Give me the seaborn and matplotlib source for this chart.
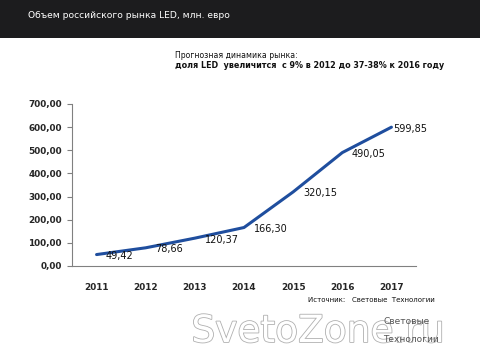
import matplotlib
matplotlib.use("Agg")
import matplotlib.pyplot as plt
import matplotlib.patheffects as pe
import seaborn as sns
import pandas as pd

years = ["2011", "2012", "2013", "2014", "2015", "2016", "2017"]
values = [49.42, 78.66, 120.37, 166.30, 320.15, 490.05, 599.85]
ytick_values = [0, 100, 200, 300, 400, 500, 600, 700]

title = "Объем российского рынка LED, млн. евро"
subtitle1 = "Прогнозная динамика рынка:"
subtitle2 = "доля LED  увеличится  с 9% в 2012 до 37-38% к 2016 году"
source = "Источник:   Световые  Технологии"

sns.set_theme(style="white")
plt.rcParams["font.family"] = ["DejaVu Sans"]

df = pd.DataFrame({"x": list(range(len(years))), "value": values})

fig = plt.figure(figsize=(4.8, 3.6), dpi=100)
fig.patch.set_facecolor("white")

# header band
fig.patches.append(plt.Rectangle((0, 1 - 38 / 360), 1, 38 / 360, transform=fig.transFigure,
                                 facecolor="#1c1c1e", edgecolor="none", zorder=0))
fig.text(28 / 480, 1 - 15 / 360, title, color="white", fontsize=6.6, va="center", ha="left")

fig.text(175 / 480, 1 - 55 / 360, subtitle1, fontsize=5.6, va="center", ha="left", color="#111111")
fig.text(175 / 480, 1 - 66 / 360, subtitle2, fontsize=5.75, fontweight="bold", va="center", ha="left", color="#111111")

ax = fig.add_axes([72 / 480, 1 - 266 / 360, 344 / 480, 162 / 360])
sns.lineplot(data=df, x="x", y="value", ax=ax, color="#1f4e9e", linewidth=2.2)

ax.set_xlim(-0.5, len(years) - 0.5)
ax.set_ylim(0, 700)
ax.set_yticks(ytick_values)
ax.set_yticklabels([f"{v:.2f}".replace(".", ",") for v in ytick_values], fontsize=6.4, fontweight="bold")
ax.set_xticks(range(len(years)))
ax.set_xticklabels(years, fontsize=6.4, fontweight="bold")
ax.set_xticks([i - 0.5 for i in range(len(years) + 1)], minor=True)
ax.tick_params(axis="x", which="major", length=0, pad=12)
ax.tick_params(axis="x", which="minor", length=4.3, width=0.8, color="#808080", direction="out")
ax.tick_params(axis="y", length=3.6, width=0.8, color="#808080", direction="out", pad=3.6, left=True)
ax.set_xlabel("")
ax.set_ylabel("")
for s in ["top", "right"]:
    ax.spines[s].set_visible(False)
for s in ["left", "bottom"]:
    ax.spines[s].set_color("#808080")
    ax.spines[s].set_linewidth(0.8)
ax.grid(False)

label_dx = [6.5, 7, 7, 7, 7, 7, 1.5]
for i, v in enumerate(values):
    ax.annotate(f"{v:.2f}".replace(".", ","), (i, v), xytext=(label_dx[i], -1), textcoords="offset points",
                fontsize=7, ha="left", va="center", color="#111111")

fig.text(308 / 480, 1 - 300 / 360, source, fontsize=5, va="center", ha="left", color="#111111")

# watermark
fig.text(318 / 480, 1 - 332 / 360, "SvetoZone.ru", fontsize=27, color="white", ha="center", va="center",
         path_effects=[pe.withStroke(linewidth=1.2, foreground="#b0b0b0")], zorder=5)
fig.text(383 / 480, 1 - 322 / 360, "Световые", fontsize=6.5, color="#555555", ha="left", va="center", zorder=6)
fig.text(383 / 480, 1 - 340 / 360, "Технологии", fontsize=6.5, color="#555555", ha="left", va="center", zorder=6)

fig.savefig("out.png", dpi=100)
